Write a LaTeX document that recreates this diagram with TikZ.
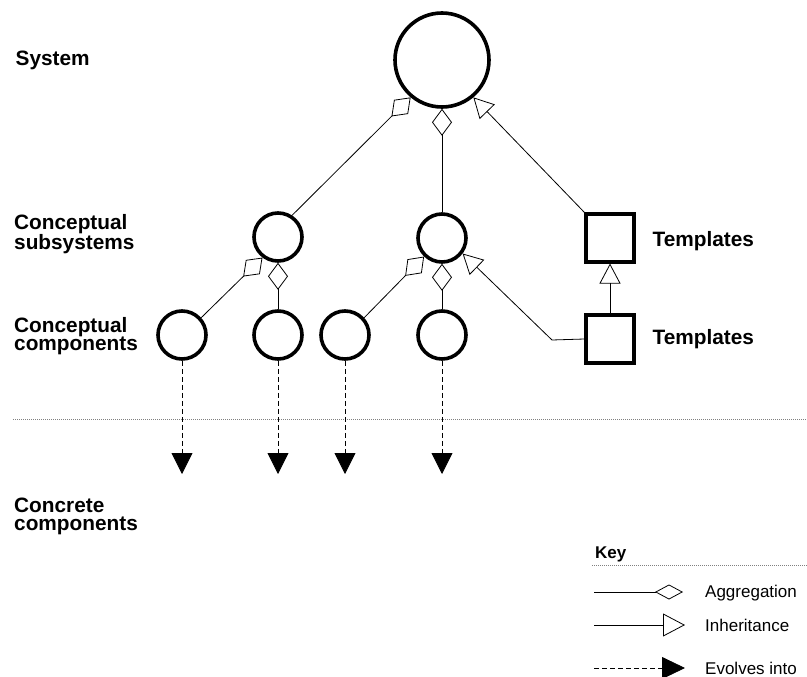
\documentclass[tikz,border=0pt]{standalone}
\usepackage{fontspec}
\setmainfont{Liberation Sans}
\usetikzlibrary{arrows.meta}
\begin{document}
\begin{tikzpicture}[x=1pt,y=-1pt,
  big/.style={circle,draw,line width=3.6pt,minimum size=94pt,inner sep=0pt},
  comp/.style={circle,draw,line width=3.6pt,minimum size=48pt,inner sep=0pt},
  tmpl/.style={rectangle,draw,line width=3.6pt,minimum size=47.5pt,inner sep=0pt},
  lbl/.style={anchor=base west,inner sep=0pt,align=left,font=\fontsize{20.8}{18}\selectfont\bfseries},
  keyhead/.style={anchor=base west,inner sep=0pt,font=\fontsize{17}{20}\selectfont\bfseries},
  keytxt/.style={anchor=base west,inner sep=0pt,font=\fontsize{17}{20}\selectfont},
  conn/.style={line width=0.8pt},
  agg/.style={conn,-{Diamond[open,length=27pt,width=20pt]}},
  inh/.style={conn,-{Triangle[open,length=20pt,width=21pt]}},
  evo/.style={conn,dash pattern=on 5pt off 3pt,-{Triangle[length=21pt,width=21pt]}},
  keyagg/.style={conn,-{Diamond[open,length=28pt,width=15pt]}},
  keyinh/.style={conn,-{Triangle[open,length=22pt,width=23pt]}},
  keyevo/.style={conn,dash pattern=on 5pt off 3pt,-{Triangle[length=23pt,width=22pt]}},
  sep/.style={gray,line width=0.6pt,dash pattern=on 1pt off 1pt}
]
\useasboundingbox (0,0) rectangle (807,677);

% main nodes
\node[big] (sys) at (442,60) {};
\node[comp] (ls) at (278,237) {};
\node[comp] (ms) at (442,238) {};
\node[comp] (c1) at (182,335) {};
\node[comp] (c2) at (278,335) {};
\node[comp] (c3) at (345,335) {};
\node[comp] (c4) at (442,335) {};
\node[tmpl] (t1) at (610,238) {};
\node[tmpl] (t2) at (610,339) {};

% labels (base anchor = last line)
\node[lbl] (lsys) at (15.5,66) {System};
\node[lbl] (lsub) at (14,249.5) {Conceptual\\subsystems};
\node[lbl] (lcomp) at (14,350) {Conceptual\\components};
\node[lbl] (lconc) at (14,530) {Concrete\\components};
\node[lbl] (lt1) at (652.5,246) {Templates};
\node[lbl] (lt2) at (652.5,344) {Templates};

% aggregation
\draw[agg] (ls.57) -- (sys.230);
\draw[agg] (ms.north) -- (sys.south);
\draw[agg] (c1.42) -- (ls.233);
\draw[agg] (c2.north) -- (ls.south);
\draw[agg] (c3.42) -- (ms.226);
\draw[agg] (c4.north) -- (ms.south);

% inheritance
\draw[inh] (t1.north west) -- (sys.310);
\draw[inh] (t2.north) -- (t1.south);
\coordinate (bend) at (552,340);
\draw[inh] (t2.west) -- (bend) -- (ms.323);

% separator
\coordinate (sepL) at (13,419);
\coordinate (sepR) at (807,419);
\draw[sep] (sepL) -- (sepR);

% evolves into
\coordinate (e1) at (182,474);
\coordinate (e2) at (278,474);
\coordinate (e3) at (345,474);
\coordinate (e4) at (442,474);
\draw[evo] (c1.south) -- (e1);
\draw[evo] (c2.south) -- (e2);
\draw[evo] (c3.south) -- (e3);
\draw[evo] (c4.south) -- (e4);

% key
\node[keyhead] (key) at (595,558) {Key};
\coordinate (kL) at (592,565);
\coordinate (kR) at (807,565);
\draw[sep] (kL) -- (kR);

\coordinate (ka1) at (594,592);
\coordinate (ka2) at (683,592);
\draw[keyagg] (ka1) -- (ka2);
\node[keytxt] (kat) at (705,597.5) {Aggregation};

\coordinate (ki1) at (594,625);
\coordinate (ki2) at (685,625);
\draw[keyinh] (ki1) -- (ki2);
\node[keytxt] (kit) at (705,631) {Inheritance};

\coordinate (ke1) at (594,668);
\coordinate (ke2) at (685,668);
\draw[keyevo] (ke1) -- (ke2);
\node[keytxt] (ket) at (705,674) {Evolves into};
\end{tikzpicture}
\end{document}
